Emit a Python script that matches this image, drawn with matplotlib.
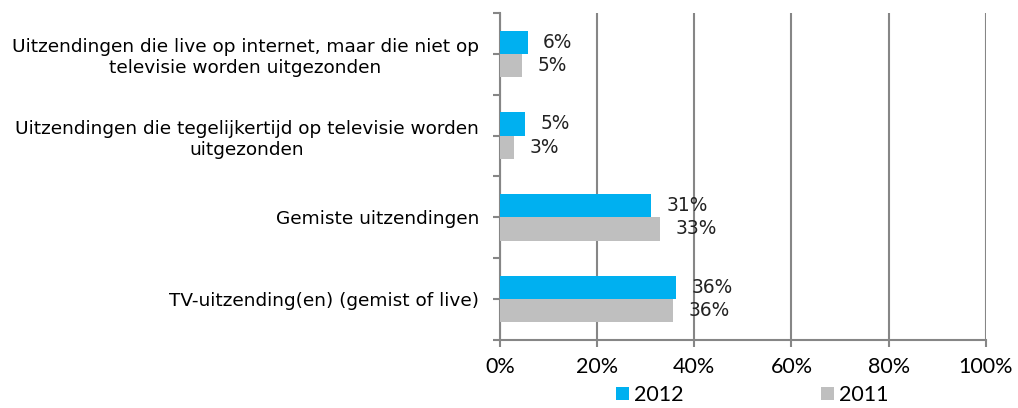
import matplotlib.pyplot as plt
import numpy as np

categories = ['TV-uitzending(en) (gemist of live)',
              'Gemiste uitzendingen',
              'Uitzendingen die tegelijkertijd op televisie worden\nuitgezonden',
              'Uitzendingen die live op internet, maar die niet op\ntelevisie worden uitgezonden']
values_2012 = [36.2, 31.1, 5.2, 5.7]
values_2011 = [35.7, 33.0, 2.9, 4.6]
labels_2012 = ['36%', '31%', '5%', '6%']
labels_2011 = ['36%', '33%', '3%', '5%']
xticks = [0, 20, 40, 60, 80, 100]

blue = '#00B0F0'
grey = '#BFBFBF'
axis_grey = '#868686'

fig = plt.figure(figsize=(10.18, 4.08), dpi=100)
ax = fig.add_axes([0.491, 0.167, 0.4775, 0.801])

y = np.arange(len(categories))
h = 0.285
ax.barh(y + h / 2, values_2012, height=h, color=blue, label='2012', zorder=3)
ax.barh(y - h / 2, values_2011, height=h, color=grey, label='2011', zorder=3)

for i in range(len(categories)):
    ax.annotate(labels_2012[i], (values_2012[i], y[i] + h / 2), xytext=(11, 0),
                textcoords='offset points', va='center', ha='left', fontsize=13.4,
                family='DejaVu Sans', color='#222222')
    ax.annotate(labels_2011[i], (values_2011[i], y[i] - h / 2), xytext=(11, 0),
                textcoords='offset points', va='center', ha='left', fontsize=13.4,
                family='DejaVu Sans', color='#222222')

ax.set_xlim(0, 100)
ax.set_ylim(-0.5, len(categories) - 0.5)
ax.set_xticks(xticks)
ax.set_xticklabels([f'{t}%' for t in xticks], fontsize=15.5, family='Lato')
ax.set_yticks(y)
ax.set_yticklabels(categories, fontsize=13.3, family='DejaVu Sans', ha='right',
                   multialignment='center', linespacing=1.25)
ax.set_yticks([-0.5, 0.5, 1.5, 2.5, 3.5], minor=True)
ax.tick_params(axis='y', which='both', length=5, color=axis_grey, width=1.5)
ax.tick_params(axis='y', which='major', pad=10)
ax.tick_params(axis='x', length=5, color=axis_grey, width=1.5, pad=7)

ax.grid(axis='x', color=axis_grey, linewidth=1.5, zorder=0)
for s in ['top', 'right']:
    ax.spines[s].set_visible(False)
for s in ['left', 'bottom']:
    ax.spines[s].set_color(axis_grey)
    ax.spines[s].set_linewidth(1.5)

fig.legend(loc='lower center', bbox_to_anchor=(0.739, -0.04), ncol=2, frameon=False,
           prop={'family': 'Lato', 'size': 15.5}, handlelength=0.6, handleheight=0.6,
           handletextpad=0.25, columnspacing=6.4)

fig.savefig('out.png', dpi=100)
